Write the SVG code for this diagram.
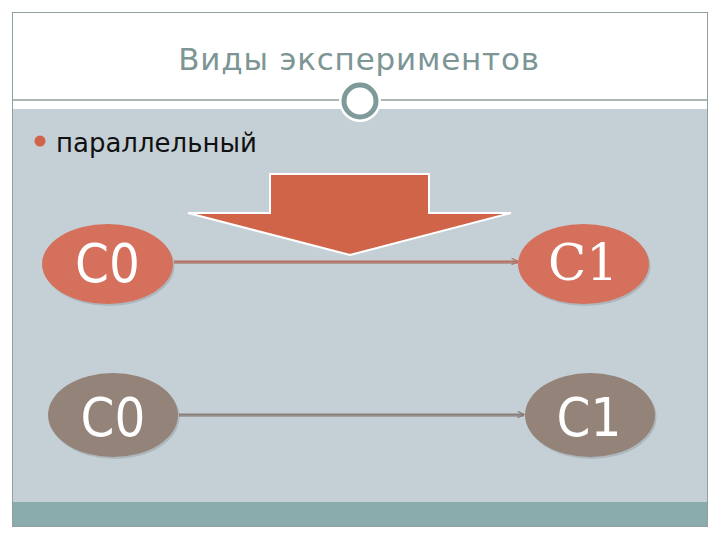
<svg xmlns="http://www.w3.org/2000/svg" width="720" height="540" viewBox="0 0 720 540">
<defs>
<style>
.title{font-family:"DejaVu Sans",sans-serif;font-size:31px;fill:#7d9595;letter-spacing:0.8px}
.bul{font-family:"DejaVu Sans",sans-serif;font-size:26px;fill:#111}
.lbl{font-family:"DejaVu Sans Condensed","DejaVu Sans",sans-serif;font-stretch:condensed;font-size:54px;fill:#ffffff;text-anchor:middle}
.serif{font-family:"DejaVu Serif","Liberation Serif",serif;font-stretch:normal;font-size:50px}
.red{fill:#d4705b}
.gray{fill:#938379}
.shadow{fill:#000;opacity:0.12}
</style>
<marker id="ahR" viewBox="0 0 10 10" refX="9" refY="5" markerWidth="8" markerHeight="8" markerUnits="userSpaceOnUse" orient="auto">
<path d="M1,1 L9,5 L1,9" fill="none" stroke="#b2705f" stroke-width="1.5"/>
</marker>
<marker id="ahG" viewBox="0 0 10 10" refX="9" refY="5" markerWidth="8" markerHeight="8" markerUnits="userSpaceOnUse" orient="auto">
<path d="M1,1 L9,5 L1,9" fill="none" stroke="#857a74" stroke-width="1.5"/>
</marker>
</defs>
<rect width="720" height="540" fill="#ffffff"/>
<g id="frame">
<rect x="12.5" y="12.5" width="695" height="514" fill="#ffffff" stroke="#8fa0a0" stroke-width="1"/>
<rect x="13" y="109" width="694" height="393" fill="#c5d0d6"/>
<rect x="13" y="502" width="694" height="24" fill="#8aacac"/>
<line x1="13" y1="100" x2="707" y2="100" stroke="#8fa0a0" stroke-width="1.5"/>
<circle cx="360" cy="101" r="21" fill="#ffffff"/>
<circle cx="360" cy="101" r="16" fill="#ffffff" stroke="#7f9a9a" stroke-width="5"/>
</g>
<g id="title"><text class="title" x="359" y="70" text-anchor="middle">Виды экспериментов</text></g>
<g id="bullet">
<circle cx="40" cy="141" r="5.5" fill="#d0644a"/>
<text class="bul" x="56" y="152">параллельный</text>
</g>
<g id="bigArrow">
<polygon points="270,174 429,174 429,213 511,213 350,255 188,213 270,213" fill="#d06449" stroke="#ffffff" stroke-width="2" stroke-linejoin="miter"/>
</g>
<g id="connectors">
<line x1="174" y1="263" x2="518" y2="263" stroke="#9e6254" stroke-width="2" opacity="0.5"/>
<line x1="174" y1="261.5" x2="518" y2="261.5" stroke="#b8705f" stroke-width="2" marker-end="url(#ahR)"/>
<line x1="179" y1="416" x2="524" y2="416" stroke="#7f7570" stroke-width="2" opacity="0.5"/>
<line x1="179" y1="414.5" x2="524" y2="414.5" stroke="#8a7e78" stroke-width="2" marker-end="url(#ahG)"/>
</g>
<g id="c0top">
<ellipse class="shadow" cx="109" cy="266" rx="65.5" ry="40"/>
<ellipse class="red" cx="107.5" cy="264" rx="65.5" ry="40"/>
<text class="lbl" x="107.5" y="282">C0</text>
</g>
<g id="c1top">
<ellipse class="shadow" cx="585" cy="266" rx="65.5" ry="40"/>
<ellipse class="red" cx="583.5" cy="264" rx="65.5" ry="40"/>
<text class="lbl serif" x="583" y="280">C1</text>
</g>
<g id="c0bot">
<ellipse class="shadow" cx="114.5" cy="417" rx="65" ry="42"/>
<ellipse class="gray" cx="113" cy="415" rx="65" ry="42"/>
<text class="lbl" x="113" y="436">C0</text>
</g>
<g id="c1bot">
<ellipse class="shadow" cx="591.5" cy="417" rx="65" ry="42"/>
<ellipse class="gray" cx="590" cy="415" rx="65" ry="42"/>
<text class="lbl" x="589" y="436">C1</text>
</g>
</svg>
